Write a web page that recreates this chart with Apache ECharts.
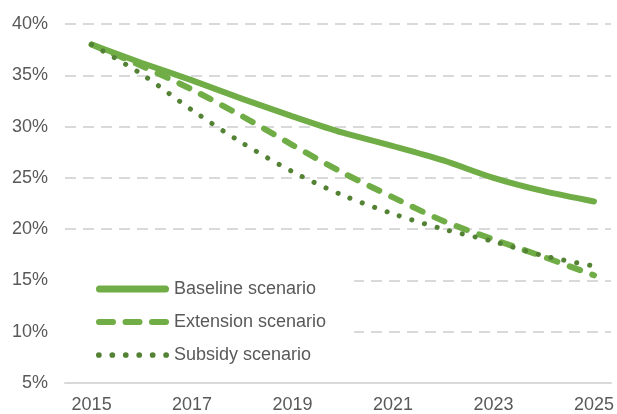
<!DOCTYPE html>
<html><head><meta charset="utf-8">
<script src="https://cdn.jsdelivr.net/npm/echarts@6/dist/echarts.min.js"></script>
<style>html,body{margin:0;padding:0;background:#fff}#c{width:617px;height:414px}</style>
</head><body><div id="c"></div>
<script>
const years = [2015,2016,2017,2018,2019,2020,2021,2022,2023,2024,2025];
const yearLabels = [2015,2017,2019,2021,2023,2025];
const baseline = [38.0,36.2,34.5,32.7,31.0,29.4,28.1,26.7,25.0,23.7,22.7];
const extension = [38.0,35.9,33.6,31.0,28.2,25.5,23.1,20.8,19.0,17.3,15.5];
const subsidy = [38.0,35.1,31.6,28.4,25.6,23.3,21.5,20.0,18.8,17.4,16.4];
const names = ['Baseline scenario','Extension scenario','Subsidy scenario'];

const toPts = arr => years.map((y,i)=>[y,arr[i]]);
function rr(x0, x1, h){ const r=h/2; return `M${x0+r},0H${x1-r}A${r},${r} 0 0 1 ${x1-r},${h}H${x0+r}A${r},${r} 0 0 1 ${x0+r},0Z`; }
const iconSolid = 'path://' + rr(0,73,7);
const iconDash = 'path://' + rr(0,20,6) + rr(26.5,46.5,6) + rr(53,73,6);
let dotP = 'path://';
for (let i=0;i<6;i++){ const cx = 2.75 + i*12.9, r=2.75; dotP += `M${cx-r},${r}A${r},${r} 0 1 0 ${cx+r},${r}A${r},${r} 0 1 0 ${cx-r},${r}Z`; }
const iconDot = dotP;

const chart = echarts.init(document.getElementById('c'));
const font = 'Liberation Sans, Arial, sans-serif';
chart.setOption({
  animation:false,
  textStyle:{fontFamily:font},
  grid:{left:65,right:3,top:24,bottom:31},
  xAxis:{type:'value',min:2014.47,max:2025.34,
    axisLine:{show:true,lineStyle:{color:'#d9d9d9',width:2}},
    axisTick:{show:false},splitLine:{show:false},
    axisLabel:{customValues:yearLabels,formatter:v=>String(v),color:'#595959',fontSize:18,margin:13,fontFamily:font}},
  yAxis:{type:'value',min:5,max:40,interval:5,
    axisLine:{show:false},axisTick:{show:false},
    axisLabel:{formatter:v=>v+'%',color:'#595959',fontSize:18,margin:17,fontFamily:font},
    splitLine:{lineStyle:{color:'#d9d9d9',width:2,type:[11,7]}}},
  legend:{orient:'vertical',left:60,top:266,itemWidth:73,itemHeight:7,itemGap:15,
    backgroundColor:'#fff',padding:[14,28,10,36],
    textStyle:{color:'#595959',fontSize:18,fontFamily:font},
    data:[{name:names[0],icon:iconSolid},{name:names[1],icon:iconDash},{name:names[2],icon:iconDot}]},
  series:[
    {name:names[0],type:'line',data:toPts(baseline),smooth:0.3,symbol:'none',
      lineStyle:{color:'#70ad47',width:6,cap:'round'},itemStyle:{color:'#70ad47'}},
    {name:names[1],type:'line',data:toPts(extension),smooth:0.3,symbol:'none',
      lineStyle:{color:'#70ad47',width:6,type:[11,13],cap:'round'},itemStyle:{color:'#70ad47'}},
    {name:names[2],type:'line',data:toPts(subsidy),smooth:0.3,symbol:'none',
      lineStyle:{color:'#548235',width:5,type:[0.1,13],cap:'round'},itemStyle:{color:'#548235'}}
  ]
});
</script></body></html>
